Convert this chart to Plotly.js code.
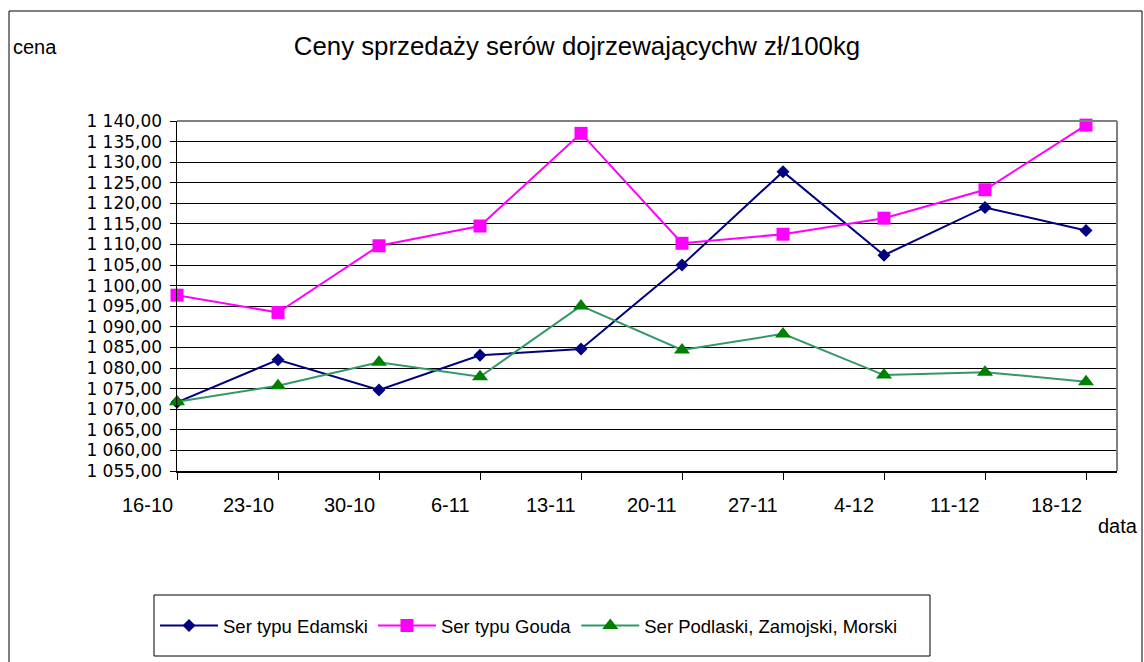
<!DOCTYPE html>
<html>
<head>
<meta charset="utf-8">
<script src="https://cdn.plot.ly/plotly-3.0.1.min.js"></script>
<style>
  html, body { margin: 0; padding: 0; background: #fff; }
  #chart { width: 1144px; height: 662px; }
</style>
</head>
<body>
<div id="chart"></div>
<script>
// ---- data ----
const categories = ['16-10', '23-10', '30-10', '6-11', '13-11', '20-11', '27-11', '4-12', '11-12', '18-12'];
const seriesNames = ['Ser typu Edamski', 'Ser typu Gouda', 'Ser Podlaski, Zamojski, Morski'];
const edamski  = [1071.7, 1082.0, 1074.7, 1083.1, 1084.6, 1105.0, 1127.7, 1107.4, 1119.0, 1113.4];
const gouda    = [1097.7, 1093.5, 1109.7, 1114.5, 1137.0, 1110.3, 1112.5, 1116.4, 1123.3, 1139.0];
const podlaski = [1071.8, 1075.7, 1081.4, 1077.9, 1095.1, 1084.4, 1088.3, 1078.3, 1079.0, 1076.7];
const titleText = 'Ceny sprzedaży serów dojrzewającychw zł/100kg';
const yAxisLabel = 'cena';
const xAxisLabel = 'data';

// ---- geometry / style ----
const W = 1144, H = 662;
const plotL = 177, plotR = 1117, plotT = 121, plotB = 471;
const pw = plotR - plotL, ph = plotB - plotT;
const px = x => (x - plotL) / pw;
const py = y => (plotB - y) / ph;
const stepPx = 101;
const labelShiftPx = -30;
const FONT = 'Liberation Sans, Arial, sans-serif';
const TICKFONT = 'DejaVu Sans, Liberation Sans, sans-serif';

const xIdx = categories.map((_, i) => i);

const traces = [
  {
    x: xIdx, y: edamski, name: seriesNames[0], type: 'scatter', mode: 'lines+markers',
    line: { color: '#000080', width: 2 },
    marker: { symbol: 'diamond', size: 10, color: '#000080' },
    cliponaxis: false
  },
  {
    x: xIdx, y: gouda, name: seriesNames[1], type: 'scatter', mode: 'lines+markers',
    line: { color: '#FF00FF', width: 2 },
    marker: { symbol: 'square', size: 13, color: '#FF00FF' },
    cliponaxis: false
  },
  {
    x: xIdx, y: podlaski, name: seriesNames[2], type: 'scatter', mode: 'lines+markers',
    line: { color: '#339966', width: 2 },
    marker: { symbol: 'triangle-up', size: 14, color: '#008000' },
    cliponaxis: false
  }
];

// category labels (drawn as text at each category position, shifted like the original)
const catLabels = categories.map((c, i) => ({
  text: c, xref: 'paper', yref: 'paper',
  x: px(plotL + i * stepPx + labelShiftPx), xanchor: 'center',
  y: py(505), yanchor: 'middle',
  showarrow: false, font: { family: FONT, size: 20, color: '#000' }
}));

const layout = {
  width: W, height: H, autosize: false,
  paper_bgcolor: '#fff', plot_bgcolor: '#fff',
  separators: ', ',
  font: { family: FONT, color: '#000', size: 20 },
  margin: { l: plotL, r: W - plotR, t: plotT, b: H - plotB, pad: 0 },
  title: {
    text: titleText,
    font: { family: FONT, size: 25.8, color: '#000' },
    xref: 'container', yref: 'container',
    x: 577 / W, xanchor: 'center',
    y: 1 - 46 / H, yanchor: 'middle'
  },
  showlegend: true,
  legend: {
    orientation: 'h',
    x: px(155), xanchor: 'left',
    y: py(626), yanchor: 'middle',
    bgcolor: 'rgba(0,0,0,0)', borderwidth: 0,
    font: { family: FONT, size: 18.5, color: '#000' },
    itemwidth: 58
  },
  xaxis: {
    range: [0, pw / stepPx],
    tickmode: 'linear', tick0: 0, dtick: 1,
    ticks: 'outside', ticklen: 7, tickcolor: '#000', tickwidth: 1,
    showticklabels: false,
    showgrid: false, zeroline: false,
    showline: true, linecolor: '#000', linewidth: 1.5
  },
  yaxis: {
    range: [1055, 1140],
    tickmode: 'linear', tick0: 1055, dtick: 5,
    tickformat: ',.2f',
    ticks: 'outside', ticklen: 6, tickcolor: '#000', tickwidth: 1,
    ticklabelstandoff: 4,
    tickfont: { family: TICKFONT, size: 17, color: '#000' },
    showgrid: true, gridcolor: '#000', gridwidth: 1,
    zeroline: false,
    showline: true, linecolor: '#000', linewidth: 1.5
  },
  shapes: [
    { type: 'rect', xref: 'paper', yref: 'paper', x0: px(9), x1: px(1142), y0: py(720), y1: py(11),
      line: { color: '#000', width: 1 }, fillcolor: 'rgba(0,0,0,0)' },
    { type: 'line', xref: 'paper', yref: 'paper', x0: 0, x1: 1, y0: 1, y1: 1, line: { color: '#808080', width: 2 } },
    { type: 'line', xref: 'paper', yref: 'paper', x0: 1, x1: 1, y0: 0, y1: 1, line: { color: '#808080', width: 2 } },
    { type: 'rect', xref: 'paper', yref: 'paper', x0: px(154), x1: px(930), y0: py(656), y1: py(595),
      line: { color: '#000', width: 1 }, fillcolor: 'rgba(0,0,0,0)' }
  ],
  annotations: [
    { text: yAxisLabel, xref: 'paper', yref: 'paper', x: px(11), xanchor: 'left', y: py(47), yanchor: 'middle',
      showarrow: false, font: { family: FONT, size: 20, color: '#000' } },
    { text: xAxisLabel, xref: 'paper', yref: 'paper', x: px(1096), xanchor: 'left', y: py(526), yanchor: 'middle',
      showarrow: false, font: { family: FONT, size: 20, color: '#000' } }
  ].concat(catLabels)
};

Plotly.newPlot('chart', traces, layout, { displayModeBar: false, staticPlot: true });
</script>
</body>
</html>
